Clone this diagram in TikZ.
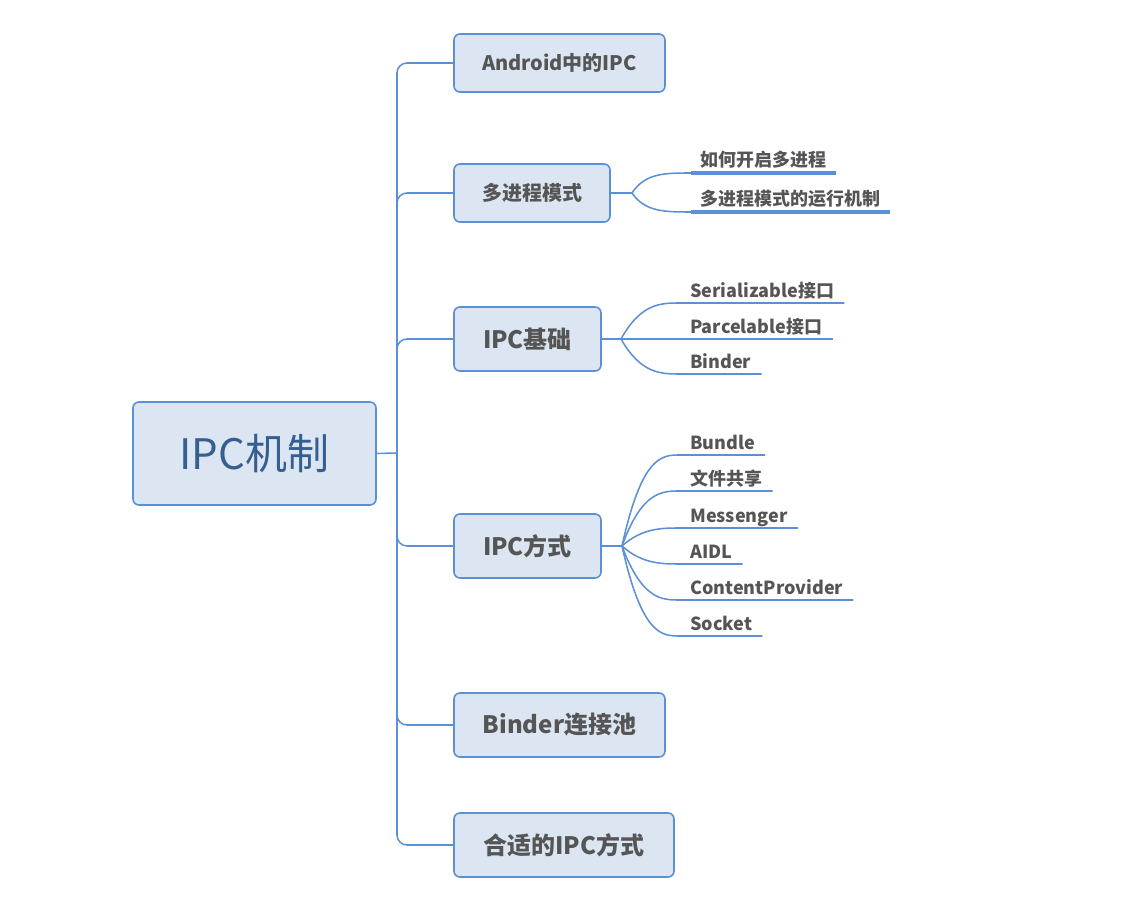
\documentclass[tikz,border=0pt]{standalone}
\usepackage{fontspec}
\setmainfont{Noto Sans CJK SC}
\definecolor{lineblue}{HTML}{5B8FD6}
\definecolor{boxfill}{HTML}{DCE6F2}
\definecolor{txtgray}{HTML}{555555}
\definecolor{roottxt}{HTML}{365F91}
\begin{document}
\begin{tikzpicture}[x=0.75pt,y=-0.75pt,
  box/.style={draw=lineblue, line width=1.2pt, fill=boxfill, rounded corners=4.5pt, text=txtgray, inner sep=0pt},
  smallbox/.style={box, font=\bfseries\fontsize{15}{18}\selectfont, minimum height=43.5pt},
  bigbox/.style={box, font=\bfseries\fontsize{18}{21}\selectfont, minimum height=48pt},
  conn/.style={draw=lineblue, line width=1.15pt},
  thickconn/.style={draw=lineblue, line width=1.6pt},
  leaf/.style={anchor=south west, inner xsep=7.5pt, inner ysep=3.9pt, text depth=0pt, font=\bfseries\fontsize{13.5}{16}\selectfont, text=txtgray},
  thickline/.style={draw=lineblue, line width=2.3pt},
]
\useasboundingbox (0,0) rectangle (1129,905);

% root
\node[box, text=roottxt, font=\fontsize{31.5}{36}\selectfont, minimum width=182.25pt, minimum height=77.25pt] (root) at (254.5,453.5) {IPC机制};

% children
\node[smallbox, minimum width=158.25pt] (c1) at (559.5,63) {Android中的IPC};
\node[smallbox, minimum width=117pt] (c2) at (532,193) {多进程模式};
\node[bigbox, minimum width=110.25pt] (c3) at (527.5,339) {IPC基础};
\node[bigbox, minimum width=110.25pt] (c4) at (527.5,546) {IPC方式};
\node[bigbox, minimum width=158.25pt] (c5) at (559.5,725) {Binder连接池};
\node[bigbox, minimum width=165pt] (c6) at (564,845) {合适的IPC方式};

% trunk
\coordinate (tr) at (397,453);
\coordinate (t1) at (397,63);
\coordinate (t6) at (397,845);
\coordinate (t2a) at (397,215); \coordinate (t2) at (397,193);
\coordinate (t3a) at (397,361); \coordinate (t3) at (397,339);
\coordinate (t4a) at (397,524); \coordinate (t4) at (397,546);
\coordinate (t5a) at (397,703); \coordinate (t5) at (397,725);

\draw[conn] (root.east) -- (tr);
\draw[conn, rounded corners=7.5pt] (c1.west) -- (t1) -- (t6) -- (c6.west);
\draw[conn, rounded corners=7.5pt] (t2a) -- (t2) -- (c2.west);
\draw[conn, rounded corners=7.5pt] (t3a) -- (t3) -- (c3.west);
\draw[conn, rounded corners=7.5pt] (t4a) -- (t4) -- (c4.west);
\draw[conn, rounded corners=7.5pt] (t5a) -- (t5) -- (c5.west);

% 多进程模式 leaves
\coordinate (b2) at (632,193);
\node[leaf, inner xsep=6.75pt, inner ysep=4.5pt] (l21) at (691,173) {如何开启多进程};
\node[leaf, inner xsep=6.75pt, inner ysep=4.5pt] (l22) at (691,212) {多进程模式的运行机制};
\draw[thickconn] (c2.east) -- (b2);
\draw[conn] (b2) .. controls (645,173) and (665,173) .. (l21.south west);
\draw[conn] (b2) .. controls (645,212) and (665,212) .. (l22.south west);
\draw[thickline] (l21.south west) -- (l21.south east);
\draw[thickline] (l22.south west) -- (l22.south east);

% IPC基础 leaves
\coordinate (b3) at (621,339);
\draw[thickconn] (c3.east) -- (b3);
\foreach \nm/\yy/\tx in {l31/303/Serializable接口, l32/339/Parcelable接口, l33/374/Binder}{
  \node[leaf] (\nm) at (680,\yy) {\tx};
  \draw[conn] (b3) .. controls (641,\yy) and (661,\yy) .. (\nm.south west) -- (\nm.south east);
}

% IPC方式 leaves
\coordinate (b4) at (622,546);
\draw[thickconn] (c4.east) -- (b4);
\foreach \nm/\yy/\tx in {l41/455/Bundle, l42/491/文件共享, l43/528/Messenger, l44/564/AIDL, l45/600/ContentProvider, l46/636/Socket}{
  \node[leaf] (\nm) at (680,\yy) {\tx};
  \draw[conn] (b4) .. controls (642,\yy) and (662,\yy) .. (\nm.south west) -- (\nm.south east);
}
\end{tikzpicture}
\end{document}
